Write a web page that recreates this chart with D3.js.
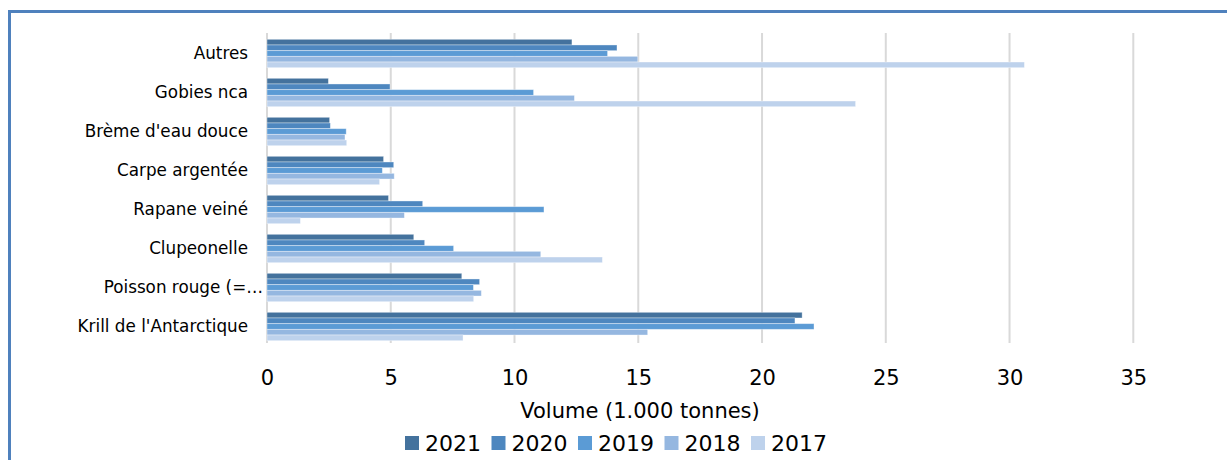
<!DOCTYPE html>
<html>
<head>
<meta charset="utf-8">
<script src="https://cdn.jsdelivr.net/npm/d3@7"></script>
<style>
  html, body { margin: 0; padding: 0; background: #fff; }
  svg { display: block; font-family: "DejaVu Sans", sans-serif; }
</style>
</head>
<body>
<svg id="chart" width="1227" height="460"></svg>
<script>
const categories = ["Autres", "Gobies nca", "Brème d'eau douce", "Carpe argentée", "Rapane veiné", "Clupeonelle", "Poisson rouge (=…", "Krill de l'Antarctique"];
const years = ["2021", "2020", "2019", "2018", "2017"];
const values2021 = [12.32, 2.48, 2.53, 4.71, 4.91, 5.93, 7.87, 21.62];
const values2020 = [14.14, 4.97, 2.56, 5.12, 6.29, 6.37, 8.59, 21.33];
const values2019 = [13.76, 10.77, 3.20, 4.66, 11.19, 7.54, 8.34, 22.10];
const values2018 = [14.98, 12.42, 3.15, 5.14, 5.55, 11.06, 8.66, 15.38];
const values2017 = [30.60, 23.78, 3.22, 4.55, 1.35, 13.55, 8.35, 7.92];
const xTicks = [0, 5, 10, 15, 20, 25, 30, 35];
const axisTitle = "Volume (1.000 tonnes)";

const seriesValues = {"2021": values2021, "2020": values2020, "2019": values2019, "2018": values2018, "2017": values2017};
const colors = {"2021": "#44729d", "2020": "#4e87bf", "2019": "#5b9bd5", "2018": "#95b7e0", "2017": "#bed2ec"};

const svg = d3.select("#chart");

// outer border
svg.append("rect")
  .attr("x", 9.5).attr("y", 11.5)
  .attr("width", 1400).attr("height", 600)
  .attr("fill", "none").attr("stroke", "#4f81bd").attr("stroke-width", 3);

const x = d3.scaleLinear().domain([0, 35]).range([267, 1133.3]);
const y = d3.scaleBand().domain(categories).range([34, 346]).paddingInner(0.272).paddingOuter(0.136);
const yInner = d3.scaleBand().domain(years).range([0, y.bandwidth()]);

// gridlines
svg.append("g").selectAll("line").data(xTicks).join("line")
  .attr("x1", d => x(d)).attr("x2", d => x(d))
  .attr("y1", 33).attr("y2", 343)
  .attr("stroke", "#d9d9d9").attr("stroke-width", 2);

// bars
const groups = svg.append("g").selectAll("g").data(categories).join("g")
  .attr("transform", c => `translate(0,${y(c)})`);
groups.selectAll("rect").data((c, i) => years.map(yr => ({yr, v: seriesValues[yr][i]})))
  .join("rect")
  .attr("x", x(0))
  .attr("y", d => yInner(d.yr))
  .attr("width", d => x(d.v) - x(0))
  .attr("height", yInner.bandwidth())
  .attr("fill", d => colors[d.yr])
  .attr("stroke", "#ffffff").attr("stroke-opacity", 0.45).attr("stroke-width", 0.8);

// category labels (truncated labels overflow with their ellipsis, as in the original)
svg.append("g").selectAll("text").data(categories).join("text")
  .attr("x", c => c.endsWith("…") ? 263 : 248)
  .attr("y", c => y(c) + y.bandwidth() / 2)
  .attr("dy", "0.35em")
  .attr("text-anchor", "end")
  .attr("font-size", 16.8)
  .attr("fill", "#000")
  .text(c => c);

// x axis
const xAxis = d3.axisBottom(x).tickValues(xTicks).tickSize(0).tickPadding(0).tickFormat(d3.format("d"));
const gx = svg.append("g").attr("transform", "translate(0,370)").call(xAxis);
gx.select(".domain").remove();
gx.selectAll("text").attr("font-size", 21).attr("fill", "#000").attr("font-family", "DejaVu Sans, sans-serif");

// axis title
svg.append("text")
  .attr("x", 640).attr("y", 418)
  .attr("text-anchor", "middle")
  .attr("font-size", 21)
  .attr("fill", "#000")
  .text(axisTitle);

// legend
const legend = svg.append("g").selectAll("g").data(years).join("g")
  .attr("transform", (d, i) => `translate(${405 + i * 86.5},0)`);
legend.append("rect")
  .attr("x", 0).attr("y", 436).attr("width", 14).attr("height", 14)
  .attr("fill", d => colors[d]);
legend.append("text")
  .attr("x", 20).attr("y", 451)
  .attr("font-size", 22)
  .attr("fill", "#000")
  .text(d => d);
</script>
</body>
</html>
